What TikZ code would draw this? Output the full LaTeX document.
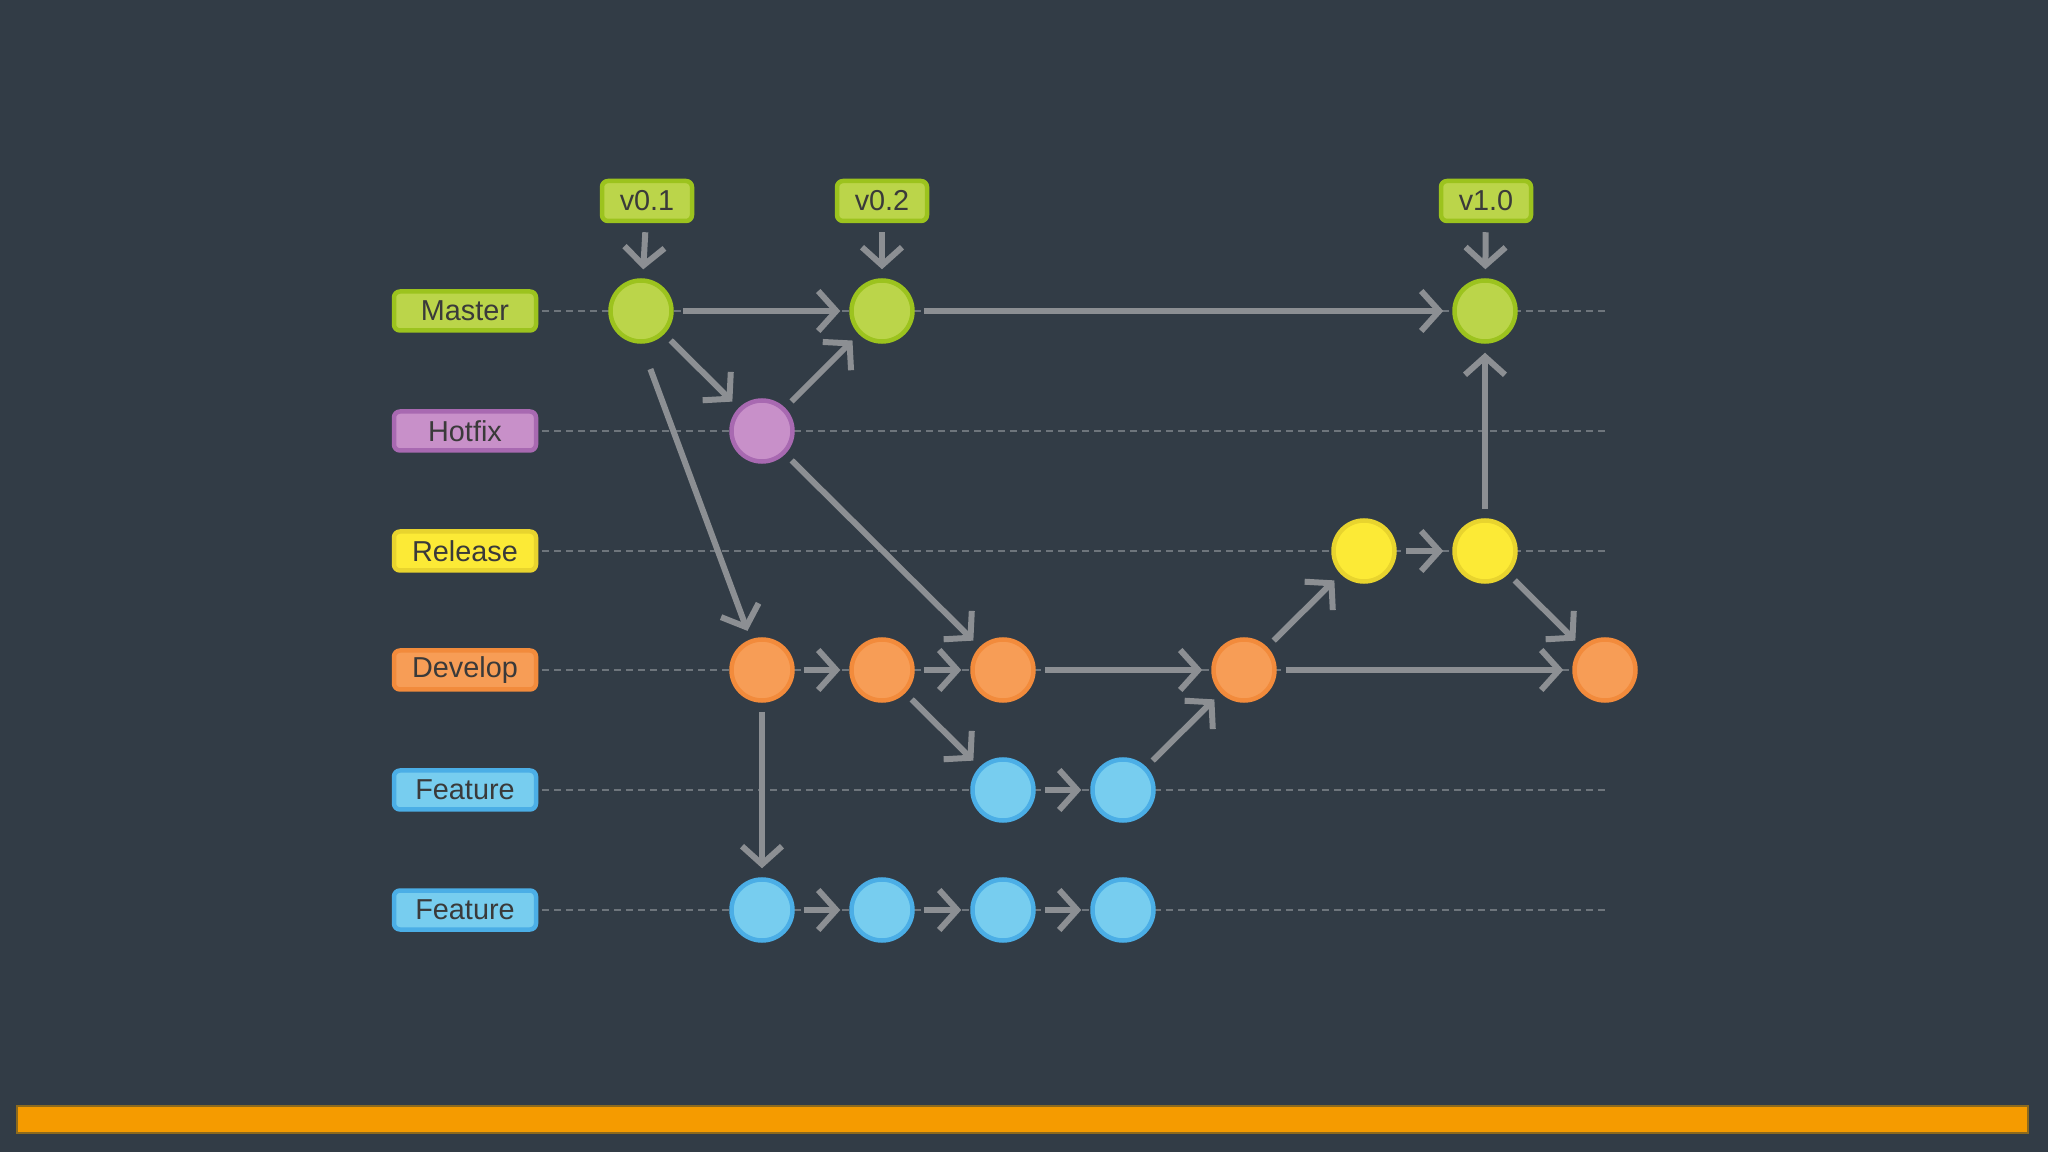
\documentclass[tikz,border=0pt]{standalone}
\usepackage{fontspec}
\setmainfont{Liberation Sans}
\usepackage{xcolor}
\usepackage{tikz}
\usetikzlibrary{arrows.meta}

\definecolor{slidebg}{HTML}{323C46}
\definecolor{flowgray}{HTML}{8C8F93}
\definecolor{lanegray}{HTML}{6E757C}
\definecolor{txtgray}{HTML}{3A3A3A}
\definecolor{greenfill}{HTML}{BBD54A}
\definecolor{greenline}{HTML}{9CC31E}
\definecolor{purplefill}{HTML}{C890C9}
\definecolor{purpleline}{HTML}{A869B1}
\definecolor{yellowfill}{HTML}{FCEA36}
\definecolor{yellowline}{HTML}{E8D42E}
\definecolor{orangefill}{HTML}{F79D56}
\definecolor{orangeline}{HTML}{F28B3C}
\definecolor{bluefill}{HTML}{77CDEF}
\definecolor{blueline}{HTML}{4BAEE6}
\definecolor{barfill}{HTML}{F59B00}
\definecolor{barline}{HTML}{8C6A1E}

\begin{document}
\begin{tikzpicture}[x=1cm,y=-1cm,
    commit/.style={circle,minimum size=0.61cm,inner sep=0pt,line width=0.045cm},
    branch/.style={rectangle,rounded corners=0.6mm,minimum width=1.42cm,minimum height=0.39cm,
        inner sep=0pt,line width=0.045cm,text=txtgray,font=\fontsize{8.2}{10}\selectfont},
    tag/.style={branch,minimum width=0.9cm,minimum height=0.4cm},
    onmaster/.style={fill=greenfill,draw=greenline},
    onhotfix/.style={fill=purplefill,draw=purpleline},
    onrelease/.style={fill=yellowfill,draw=yellowline},
    ondevelop/.style={fill=orangefill,draw=orangeline},
    onfeature/.style={fill=bluefill,draw=blueline},
    flow/.style={draw=flowgray,line width=0.06cm,-{Straight Barb[length=1.8mm,width=4mm]},
        shorten <=0.09cm,shorten >=0.09cm},
    lane/.style={draw=lanegray,line width=0.015cm,dash pattern=on 0.07cm off 0.05cm,shorten <=0.04cm}]

    % Slide
    \fill[slidebg] (0,0) rectangle (20.48,11.52);
    \draw[fill=barfill,draw=barline,line width=0.02cm] (0.17,11.06) rectangle (20.28,11.33);

    % Branch labels
    \node[branch,onmaster] (lmaster) at (4.65,3.11) {Master};
    \node[branch,onhotfix] (lhotfix) at (4.65,4.31) {Hotfix};
    \node[branch,onrelease] (lrelease) at (4.65,5.51) {Release};
    \node[branch,ondevelop] (ldevelop) at (4.65,6.70) {Develop};
    \node[branch,onfeature] (lfeatA) at (4.65,7.90) {Feature};
    \node[branch,onfeature] (lfeatB) at (4.65,9.10) {Feature};

    % Lanes
    \coordinate (emaster) at (16.07,3.11);
    \coordinate (ehotfix) at (16.07,4.31);
    \coordinate (erelease) at (16.07,5.51);
    \coordinate (edevelop) at (16.07,6.70);
    \coordinate (efeatA) at (16.07,7.90);
    \coordinate (efeatB) at (16.07,9.10);
    \draw[lane] (lmaster) -- (emaster);
    \draw[lane] (lhotfix) -- (ehotfix);
    \draw[lane] (lrelease) -- (erelease);
    \draw[lane] (ldevelop) -- (edevelop);
    \draw[lane] (lfeatA) -- (efeatA);
    \draw[lane] (lfeatB) -- (efeatB);

    % Master
    \node[commit,onmaster] (m1) at (6.41,3.11) {};
    \node[commit,onmaster] (m2) at (8.82,3.11) {};
    \node[commit,onmaster] (m3) at (14.85,3.11) {};

    % Tags
    \node[tag,onmaster] (v01) at (6.47,2.01) {v0.1};
    \node[tag,onmaster] (v02) at (8.82,2.01) {v0.2};
    \node[tag,onmaster] (v10) at (14.86,2.01) {v1.0};

    % Hotfix
    \node[commit,onhotfix] (h1) at (7.62,4.31) {};

    % Release
    \node[commit,onrelease] (r1) at (13.64,5.51) {};
    \node[commit,onrelease] (r2) at (14.85,5.51) {};

    % Develop
    \node[commit,ondevelop] (d1) at (7.62,6.70) {};
    \node[commit,ondevelop] (d2) at (8.82,6.70) {};
    \node[commit,ondevelop] (d3) at (10.03,6.70) {};
    \node[commit,ondevelop] (d4) at (12.44,6.70) {};
    \node[commit,ondevelop] (d5) at (16.05,6.70) {};

    % Features
    \node[commit,onfeature] (fa1) at (10.03,7.90) {};
    \node[commit,onfeature] (fa2) at (11.23,7.90) {};
    \node[commit,onfeature] (fb1) at (7.62,9.10) {};
    \node[commit,onfeature] (fb2) at (8.82,9.10) {};
    \node[commit,onfeature] (fb3) at (10.03,9.10) {};
    \node[commit,onfeature] (fb4) at (11.23,9.10) {};

    % Arrows
    \draw[flow] (v01) -- (m1);
    \draw[flow] (v02) -- (m2);
    \draw[flow] (v10) -- (m3);
    \draw[flow] (m1) -- (m2);
    \draw[flow] (m2) -- (m3);
    \draw[flow] (m1) -- (h1);
    \draw[flow] (h1) -- (m2);
    \draw[flow,shorten <=0.27cm] (m1.south) -- (d1);
    \draw[flow] (h1) -- (d3);
    \draw[flow] (d1) -- (d2);
    \draw[flow] (d2) -- (d3);
    \draw[flow] (d3) -- (d4);
    \draw[flow] (d4) -- (d5);
    \draw[flow] (d1) -- (fb1);
    \draw[flow] (fb1) -- (fb2);
    \draw[flow] (fb2) -- (fb3);
    \draw[flow] (fb3) -- (fb4);
    \draw[flow] (d2) -- (fa1);
    \draw[flow] (fa1) -- (fa2);
    \draw[flow] (fa2) -- (d4);
    \draw[flow] (d4) -- (r1);
    \draw[flow] (r1) -- (r2);
    \draw[flow] (r2) -- (m3);
    \draw[flow] (r2) -- (d5);
\end{tikzpicture}
\end{document}
